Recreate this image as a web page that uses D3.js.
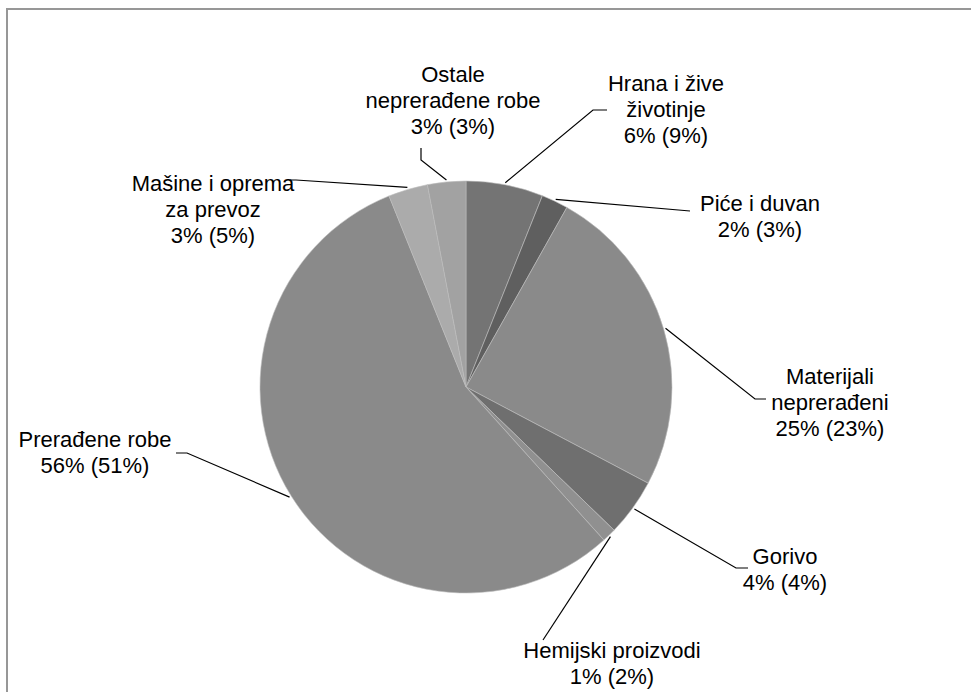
<!DOCTYPE html>
<html>
<head>
<meta charset="utf-8">
<script src="https://cdn.jsdelivr.net/npm/d3@7"></script>
<style>
  body { margin: 0; background: #fff; }
  svg { display: block; }
  text { font-family: "Liberation Sans", Arial, sans-serif; font-size: 22px; fill: #000; }
</style>
</head>
<body>
<div id="chart"></div>
<script>
(function() {
  var width = 971, height = 692

  // categories, clockwise from 12 o'clock
  var categories = ['Hrana i žive životinje', 'Piće i duvan', 'Materijali neprerađeni', 'Gorivo',
                    'Hemijski proizvodi', 'Prerađene robe', 'Mašine i oprema za prevoz', 'Ostale neprerađene robe']
  // share of current period
  var shares = [6.05, 2.1, 24.6, 4.5, 1.1, 55.6, 3.1, 3.0]
  // label text: current share and (previous share)
  var currentPct = ['6%', '2%', '25%', '4%', '1%', '56%', '3%', '3%']
  var previousPct = ['9%', '3%', '23%', '4%', '2%', '51%', '5%', '3%']
  var labelLines = [
    ['Hrana i žive', 'životinje'],
    ['Piće i duvan'],
    ['Materijali', 'neprerađeni'],
    ['Gorivo'],
    ['Hemijski proizvodi'],
    ['Prerađene robe'],
    ['Mašine i oprema', 'za prevoz'],
    ['Ostale', 'neprerađene robe']
  ]

  var colors = ['#747474', '#5f5f5f', '#8a8a8a', '#6f6f6f', '#909090', '#8a8a8a', '#ababab', '#a2a2a2']

  // where each label sits (center x, middle y) and the leader bend / end
  var layout = [
    { x: 666, y: 109, bend: [593, 110], end: [607, 110] },
    { x: 760, y: 216, bend: [690, 211], end: [690, 211] },
    { x: 830, y: 402, bend: [755, 399], end: [766, 399] },
    { x: 785, y: 569, bend: [736, 568], end: [748, 568] },
    { x: 612, y: 663, bend: [543, 640], end: [543, 640] },
    { x: 95,  y: 452, bend: [187, 453], end: [176, 453] },
    { x: 213, y: 209, bend: [296, 180], end: [290, 180] },
    { x: 453, y: 100, bend: [421, 160], end: [421, 148] }
  ]

  var lineHeight = 26
  var cx = 466, cy = 387, radius = 206

  var svg = d3.select('#chart')
      .append('svg')
      .attr('width', width)
      .attr('height', height)

  // frame
  svg.append('rect')
      .attr('x', 7)
      .attr('y', 9)
      .attr('width', 1000)
      .attr('height', 1000)
      .attr('fill', 'none')
      .attr('stroke', '#979797')
      .attr('stroke-width', 2)

  var data = categories.map(function(c, i) {
    return { name: c, value: shares[i], i: i }
  })

  var pie = d3.pie()
      .sort(null)
      .value(function(d) { return d.value })

  var arc = d3.arc()
      .innerRadius(0)
      .outerRadius(radius)

  var arcs = pie(data)

  var g = svg.append('g')
      .attr('transform', 'translate(' + cx + ',' + cy + ')')

  g.selectAll('path')
      .data(arcs)
      .enter().append('path')
      .attr('d', arc)
      .attr('fill', function(d) { return colors[d.data.i] })
      .attr('stroke', '#bdbdbd')
      .attr('stroke-width', 0.6)

  // leader lines, starting on the rim at the middle of each slice
  var rim = d3.arc().innerRadius(radius + 2).outerRadius(radius + 2)

  svg.selectAll('.leader')
      .data(arcs)
      .enter().append('polyline')
      .attr('class', 'leader')
      .attr('fill', 'none')
      .attr('stroke', '#000')
      .attr('stroke-width', 1.2)
      .attr('points', function(d) {
        var p = rim.centroid(d)
        var L = layout[d.data.i]
        return [[p[0] + cx, p[1] + cy], L.bend, L.end].map(function(q) { return q.join(',') }).join(' ')
      })

  // labels
  svg.selectAll('.label')
      .data(arcs)
      .enter().append('text')
      .attr('class', 'label')
      .attr('text-anchor', 'middle')
      .each(function(d) {
        var i = d.data.i
        var lines = labelLines[i].concat([currentPct[i] + ' (' + previousPct[i] + ')'])
        var L = layout[i]
        var top = L.y - (lines.length - 1) * lineHeight / 2
        var t = d3.select(this)
        lines.forEach(function(s, k) {
          t.append('tspan')
              .attr('x', L.x)
              .attr('y', top + k * lineHeight)
              .attr('dy', '0.35em')
              .text(s)
        })
      })
})();
</script>
</body>
</html>
